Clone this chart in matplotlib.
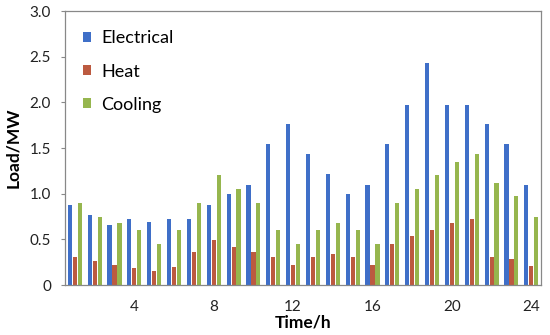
import matplotlib.pyplot as plt
import numpy as np

hours = np.arange(1, 25)
electrical = [0.88, 0.77, 0.66, 0.72, 0.69, 0.72, 0.72, 0.88, 1.00, 1.10, 1.54, 1.76,
              1.43, 1.22, 1.00, 1.10, 1.54, 1.97, 2.43, 1.97, 1.97, 1.76, 1.54, 1.10]
heat = [0.31, 0.26, 0.22, 0.19, 0.15, 0.20, 0.36, 0.49, 0.42, 0.36, 0.31, 0.22,
        0.31, 0.34, 0.31, 0.22, 0.45, 0.54, 0.60, 0.68, 0.72, 0.31, 0.29, 0.21]
cooling = [0.90, 0.75, 0.68, 0.60, 0.45, 0.60, 0.90, 1.20, 1.05, 0.90, 0.60, 0.45,
           0.60, 0.68, 0.60, 0.45, 0.90, 1.05, 1.20, 1.35, 1.43, 1.12, 0.98, 0.75]
xticks = [4, 8, 12, 16, 20, 24]
yticks = [0, 0.5, 1.0, 1.5, 2.0, 2.5, 3.0]
ylabels = ["0", "0.5", "1.0", "1.5", "2.0", "2.5", "3.0"]

plt.rcParams["font.family"] = ["Lato", "DejaVu Sans"]

fig = plt.figure(figsize=(5.5, 3.35), dpi=100)
ax = fig.add_axes([0.118, 0.149, 0.866, 0.818])

w = 0.21
ax.bar(hours - 0.25, electrical, w, color="#3F6FC8", label="Electrical")
ax.bar(hours, heat, w, color="#BC5A40", label="Heat")
ax.bar(hours + 0.25, cooling, w, color="#96B64E", label="Cooling")

ax.set_xlim(0.5, 24.5)
ax.set_ylim(0, 3.0)
ax.set_xticks(xticks)
ax.set_yticks(yticks)
ax.set_yticklabels(ylabels)
ax.tick_params(axis="x", length=0, labelsize=11, colors="#222222", pad=11)
ax.tick_params(axis="y", length=3, labelsize=11, colors="#222222", pad=7, color="#888888")
for s in ax.spines.values():
    s.set_color("#888888")
    s.set_linewidth(0.9)

ax.set_xlabel("Time/h", fontsize=12.5, fontweight="bold", labelpad=0)
ax.set_ylabel("Load/MW", fontsize=12.5, fontweight="bold", labelpad=6)

ax.legend(loc="upper left", frameon=False, fontsize=13, handlelength=0.45,
          handleheight=0.45, handletextpad=0.55, labelspacing=0.95,
          borderaxespad=0.4, bbox_to_anchor=(0.008, 0.982))

fig.savefig("out.png", dpi=100)
